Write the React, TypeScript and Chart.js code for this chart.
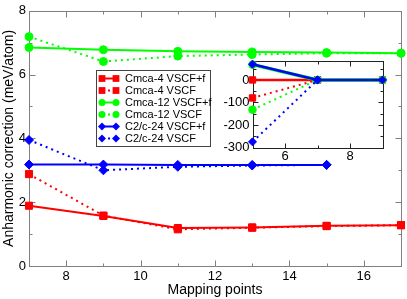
import React, { useEffect, useRef } from 'react';
import { Chart, registerables } from 'chart.js';

Chart.register(...registerables);

const FONT = '"Liberation Sans", Arial, Helvetica, sans-serif';

// ---- main chart data ----
const mainX = [7, 9, 11, 13, 15, 17];
const c2cX = [7, 9, 11, 13, 15];
const cmca4VscfF = [1.89, 1.57, 1.19, 1.21, 1.26, 1.28];
const cmca4Vscf = [2.88, 1.58, 1.15, 1.2, 1.25, 1.28];
const cmca12VscfF = [6.85, 6.78, 6.73, 6.71, 6.69, 6.67];
const cmca12Vscf = [7.19, 6.41, 6.58, 6.63, 6.67, 6.67];
const c2c24VscfF = [3.18, 3.18, 3.17, 3.17, 3.17];
const c2c24Vscf = [3.95, 3.0, 3.11, 3.15, 3.17];

// ---- inset data ----
const insetX = [5, 7, 9];
const insetXDotted = [5, 7];
const insetCmca4F = [0, 0, 0];
const insetCmca4 = [-80, 0];
const insetCmca12F = [68, 0, 0];
const insetCmca12 = [-132, 0];
const insetC2cF = [70, 0, 0];
const insetC2c = [-275, 0];

// ---- ticks ----
const mainXTicks = [8, 10, 12, 14, 16];
const mainXMinor = [7, 9, 11, 13, 15, 17];
const mainYTicks = [0, 2, 4, 6, 8];
const mainYMinor = [1, 3, 5, 7];
const insetXTicks = [6, 8];
const insetXMinor = [5, 7, 9];
const insetYTicks = [-300, -200, -100, 0];
const insetYMinor = [-250, -150, -50, 50];

const RED = '#ff0000';
const GREEN = '#00ff00';
const BLUE = '#0000ff';

const pts = (xs: number[], ys: number[]) => ys.map((y, i) => ({ x: xs[i], y }));

function drawMarker(ctx: CanvasRenderingContext2D, style: string, x: number, y: number, r: number, color: string) {
  ctx.fillStyle = color;
  ctx.beginPath();
  if (style === 'rect') {
    const s = r * Math.SQRT1_2;
    ctx.rect(x - s, y - s, 2 * s, 2 * s);
  } else if (style === 'circle') {
    ctx.arc(x, y, r, 0, Math.PI * 2);
  } else {
    ctx.moveTo(x - r, y);
    ctx.lineTo(x, y - r);
    ctx.lineTo(x + r, y);
    ctx.lineTo(x, y + r);
    ctx.closePath();
  }
  ctx.fill();
}

function framePlugin(id: string, o: any) {
  return {
    id,
    beforeDraw(chart: any) {
      if (!o.fill) return;
      const { ctx, chartArea: a } = chart;
      ctx.save();
      ctx.fillStyle = '#fff';
      ctx.fillRect(a.left, a.top, a.right - a.left, a.bottom - a.top);
      ctx.restore();
    },
    beforeDatasetsDraw(chart: any) {
      const { ctx, chartArea: a, scales } = chart;
      const sx = scales.x;
      const sy = scales.y;
      ctx.save();
      ctx.strokeStyle = o.color;
      ctx.lineWidth = o.lw;
      const L = Math.round(a.left) + 0.5;
      const R = Math.round(a.right) + 0.5;
      const T = Math.round(a.top) + 0.5;
      const B = Math.round(a.bottom) + 0.5;
      ctx.strokeRect(L, T, R - L, B - T);
      const seg = (x1: number, y1: number, x2: number, y2: number) => {
        ctx.beginPath();
        ctx.moveTo(x1, y1);
        ctx.lineTo(x2, y2);
        ctx.stroke();
      };
      const xt = (v: number, len: number) => {
        const p = Math.round(sx.getPixelForValue(v)) + 0.5;
        seg(p, B, p, B - len);
        seg(p, T, p, T + len);
      };
      const yt = (v: number, len: number) => {
        const p = Math.round(sy.getPixelForValue(v)) + 0.5;
        seg(L, p, L + len, p);
        seg(R, p, R - len, p);
      };
      o.xMajor.forEach((v: number) => xt(v, o.major));
      o.xMinor.forEach((v: number) => xt(v, o.minor));
      o.yMajor.forEach((v: number) => yt(v, o.major));
      o.yMinor.forEach((v: number) => yt(v, o.minor));
      ctx.restore();
    },
  };
}

const legendPlugin = {
  id: 'boxLegend',
  afterDatasetsDraw(chart: any) {
    const { ctx } = chart;
    const left = 96;
    const top = 70;
    const w = 114;
    const h = 76;
    ctx.save();
    ctx.fillStyle = '#fff';
    ctx.fillRect(left, top, w, h);
    ctx.strokeStyle = '#444';
    ctx.lineWidth = 1;
    ctx.strokeRect(left + 0.5, top + 0.5, w, h);
    chart.data.datasets.forEach((ds: any, i: number) => {
      const y = top + 8.5 + i * 12;
      const x1 = left + 6;
      const x2 = left + 20;
      ctx.strokeStyle = ds.borderColor;
      ctx.lineWidth = 2;
      ctx.setLineDash(ds.borderDash || []);
      ctx.beginPath();
      ctx.moveTo(x1, y);
      ctx.lineTo(x2, y);
      ctx.stroke();
      ctx.setLineDash([]);
      const r = ds.pointStyle === 'rect' ? 4.8 : ds.pointStyle === 'circle' ? 3.5 : 4;
      drawMarker(ctx, ds.pointStyle, x1, y, r, ds.borderColor);
      drawMarker(ctx, ds.pointStyle, x2, y, r, ds.borderColor);
      ctx.fillStyle = '#000';
      ctx.font = `11px ${FONT}`;
      ctx.textBaseline = 'middle';
      ctx.textAlign = 'left';
      ctx.fillText(ds.label, left + 29, y + 0.5);
    });
    ctx.restore();
  },
};

function series(label: string, data: any[], color: string, dotted: boolean, style: string, r: number, lw: number, order: number) {
  return {
    label,
    data,
    borderColor: color,
    backgroundColor: color,
    borderWidth: lw,
    borderDash: dotted ? [2, 4] : [],
    pointStyle: style,
    pointRadius: r,
    pointBackgroundColor: color,
    pointBorderColor: color,
    pointBorderWidth: 1,
    tension: 0,
    clip: false,
    order,
  };
}

export default function App() {
  const mainRef = useRef<HTMLCanvasElement>(null);
  const insetRef = useRef<HTMLCanvasElement>(null);

  useEffect(() => {
    const tickFont = { family: FONT, size: 13 };
    const titleFont = { family: FONT, size: 14 };

    const main = new Chart(mainRef.current as HTMLCanvasElement, {
      type: 'line',
      data: {
        datasets: [
          series('Cmca-4 VSCF+f', pts(mainX, cmca4VscfF), RED, false, 'rect', 5, 2, 6),
          series('Cmca-4 VSCF', pts(mainX, cmca4Vscf), RED, true, 'rect', 5, 2, 5),
          series('Cmca-12 VSCF+f', pts(mainX, cmca12VscfF), GREEN, false, 'circle', 4, 2, 4),
          series('Cmca-12 VSCF', pts(mainX, cmca12Vscf), GREEN, true, 'circle', 4, 2, 3),
          series('C2/c-24 VSCF+f', pts(c2cX, c2c24VscfF), BLUE, false, 'rectRot', 4.5, 2, 2),
          series('C2/c-24 VSCF', pts(c2cX, c2c24Vscf), BLUE, true, 'rectRot', 4.5, 2, 1),
        ] as any,
      },
      options: {
        responsive: false,
        animation: false,
        devicePixelRatio: 1,
        layout: { padding: { left: 0, top: 5, right: 3, bottom: 0 } },
        plugins: { legend: { display: false }, tooltip: { enabled: false } },
        scales: {
          x: {
            type: 'linear',
            min: 7,
            max: 17,
            afterBuildTicks: (s: any) => { s.ticks = mainXTicks.map((v) => ({ value: v })); },
            afterFit: (s: any) => { s.height = 33; },
            grid: { display: false, drawTicks: false },
            border: { display: false },
            ticks: { font: tickFont, color: '#000', padding: 3, maxRotation: 0, autoSkip: false },
            title: { display: true, text: 'Mapping points', font: titleFont, color: '#000', padding: 0 },
          },
          y: {
            type: 'linear',
            min: 0,
            max: 8,
            afterBuildTicks: (s: any) => { s.ticks = mainYTicks.map((v) => ({ value: v })); },
            afterFit: (s: any) => { s.width = 29; },
            grid: { display: false, drawTicks: false },
            border: { display: false },
            ticks: { font: tickFont, color: '#000', padding: 3, autoSkip: false },
            title: { display: true, text: 'Anharmonic correction (meV/atom)', font: titleFont, color: '#000', padding: { top: 1, bottom: 0 } },
          },
        },
      } as any,
      plugins: [
        framePlugin('mainFrame', { color: '#808080', lw: 1, major: 6, minor: 3, xMajor: mainXTicks, xMinor: mainXMinor, yMajor: mainYTicks, yMinor: mainYMinor }),
        legendPlugin,
      ],
    });

    const inset = new Chart(insetRef.current as HTMLCanvasElement, {
      type: 'line',
      data: {
        datasets: [
          series('Cmca-4 VSCF+f', pts(insetX, insetCmca4F), RED, false, 'rect', 4.5, 2.5, 6),
          series('Cmca-4 VSCF', pts(insetXDotted, insetCmca4), RED, true, 'rect', 4.5, 2, 5),
          series('Cmca-12 VSCF+f', pts(insetX, insetCmca12F), GREEN, false, 'circle', 3.8, 3.5, 4),
          series('Cmca-12 VSCF', pts(insetXDotted, insetCmca12), GREEN, true, 'circle', 3.8, 2, 3),
          series('C2/c-24 VSCF+f', pts(insetX, insetC2cF), BLUE, false, 'rectRot', 4, 2.5, 2),
          series('C2/c-24 VSCF', pts(insetXDotted, insetC2c), BLUE, true, 'rectRot', 4, 2, 1),
        ] as any,
      },
      options: {
        responsive: false,
        animation: false,
        devicePixelRatio: 1,
        layout: { padding: { left: 0, top: 6, right: 7.5, bottom: 0 } },
        plugins: { legend: { display: false }, tooltip: { enabled: false } },
        scales: {
          x: {
            type: 'linear',
            min: 5,
            max: 9,
            afterBuildTicks: (s: any) => { s.ticks = insetXTicks.map((v) => ({ value: v })); },
            afterFit: (s: any) => { s.height = 17.5; },
            grid: { display: false, drawTicks: false },
            border: { display: false },
            ticks: { font: tickFont, color: '#000', padding: 1, maxRotation: 0, autoSkip: false },
          },
          y: {
            type: 'linear',
            min: -300,
            max: 85,
            afterBuildTicks: (s: any) => { s.ticks = insetYTicks.map((v) => ({ value: v })); },
            afterFit: (s: any) => { s.width = 37.5; },
            grid: { display: false, drawTicks: false },
            border: { display: false },
            ticks: { font: tickFont, color: '#000', padding: 3, autoSkip: false },
          },
        },
      } as any,
      plugins: [
        framePlugin('insetFrame', { fill: true, color: '#222', lw: 1, major: 5, minor: 3, xMajor: insetXTicks, xMinor: insetXMinor, yMajor: insetYTicks, yMinor: insetYMinor }),
      ],
    });

    return () => {
      main.destroy();
      inset.destroy();
    };
  }, []);

  return (
    <div style={{ position: 'fixed', left: 0, top: 0, width: 407, height: 299, background: '#fff' }}>
      <canvas ref={mainRef} width={407} height={299} style={{ position: 'absolute', left: 0, top: 0, width: 407, height: 299 }} />
      <canvas ref={insetRef} width={175} height={115} style={{ position: 'absolute', left: 215, top: 50, width: 175, height: 115 }} />
    </div>
  );
}
